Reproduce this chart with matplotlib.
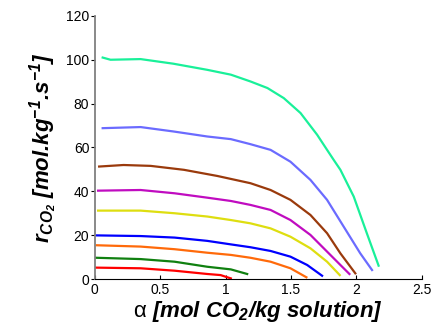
import numpy as np
import matplotlib
matplotlib.use('Agg')
import matplotlib.pyplot as plt

plt.rcParams['font.family'] = ['Liberation Sans', 'DejaVu Sans']
plt.rcParams['mathtext.fontset'] = 'custom'
plt.rcParams['mathtext.rm'] = 'Liberation Sans'
plt.rcParams['mathtext.bfit'] = 'Liberation Sans:italic:bold'

# Courbes (alpha, r_CO2)
x_100 = [0.06, 0.12, 0.35, 0.60, 0.86, 1.04, 1.19, 1.32, 1.445, 1.573, 1.70, 1.776, 1.827, 1.878, 1.98, 2.08, 2.17]
y_100 = [101.0, 100.0, 100.3, 98.2, 95.4, 93.2, 90.1, 87.1, 82.5, 75.7, 65.8, 58.9, 54.3, 49.8, 37.6, 20.9, 6.1]

x_69 = [0.06, 0.35, 0.60, 0.86, 1.04, 1.19, 1.344, 1.496, 1.649, 1.776, 1.903, 2.03, 2.12]
y_69 = [68.8, 69.3, 67.3, 65.0, 63.8, 61.5, 58.9, 53.5, 45.2, 36.1, 23.9, 11.7, 4.1]

x_51 = [0.033, 0.22, 0.427, 0.682, 0.937, 1.19, 1.344, 1.496, 1.649, 1.776, 1.878, 1.992]
y_51 = [51.3, 52.0, 51.6, 49.8, 47.0, 43.7, 40.6, 36.1, 29.2, 20.9, 11.7, 2.6]

x_40 = [0.025, 0.35, 0.61, 0.86, 1.04, 1.19, 1.344, 1.496, 1.649, 1.776, 1.878, 1.947]
y_40 = [40.3, 40.6, 39.1, 37.1, 35.6, 33.8, 31.5, 26.9, 20.1, 12.5, 6.4, 2.3]

x_31 = [0.025, 0.35, 0.61, 0.86, 1.04, 1.19, 1.344, 1.496, 1.649, 1.776, 1.873]
y_31 = [31.2, 31.2, 30.0, 28.5, 26.9, 25.4, 23.1, 19.3, 14.0, 7.9, 1.8]

x_20 = [0.015, 0.35, 0.61, 0.86, 1.04, 1.19, 1.344, 1.496, 1.624, 1.738]
y_20 = [19.9, 19.6, 18.9, 17.4, 15.8, 14.5, 12.8, 10.2, 6.4, 1.5]

x_15 = [0.015, 0.35, 0.61, 0.86, 1.04, 1.19, 1.344, 1.496, 1.618]
y_15 = [15.4, 14.8, 13.6, 12.0, 11.0, 9.7, 7.9, 4.9, 0.8]

x_10 = [0.008, 0.35, 0.61, 0.86, 1.04, 1.165]
y_10 = [9.7, 9.1, 7.9, 5.6, 4.4, 2.3]

x_5 = [0.008, 0.35, 0.61, 0.86, 0.962, 1.013, 1.04]
y_5 = [5.2, 4.9, 3.8, 2.3, 1.8, 0.8, 0.3]

series = [(x_100, y_100, '#19f099'), (x_69, y_69, '#6b6bff'), (x_51, y_51, '#9a3a0c'),
          (x_40, y_40, '#c00cc0'), (x_31, y_31, '#dede10'), (x_20, y_20, '#0000ff'),
          (x_15, y_15, '#ff6a0a'), (x_10, y_10, '#108010'), (x_5, y_5, '#ff0000')]

fig = plt.figure(figsize=(4.33, 3.31), dpi=100)
ax = fig.add_axes([0.219, 0.157, 0.755, 0.795])

for xs, ys, c in series:
    ax.plot(xs, ys, '-', color=c, linewidth=1.6, solid_joinstyle='round')

ax.set_xlim(0, 2.5)
ax.set_ylim(0, 120)
ax.set_xticks([0, 0.5, 1, 1.5, 2, 2.5])
ax.set_xticklabels(['0', '0.5', '1', '1.5', '2', '2.5'])
ax.set_yticks([0, 20, 40, 60, 80, 100, 120])
ax.tick_params(axis='x', direction='in', length=3, labelsize=10, pad=3)
ax.tick_params(axis='y', direction='out', length=3, labelsize=10, pad=1)
ax.spines['top'].set_visible(False)
ax.spines['right'].set_visible(False)
ax.spines['left'].set_color('#808080')
ax.spines['left'].set_linewidth(1.3)

ax.set_xlabel(r'$\mathrm{\alpha}$ [mol CO$_\mathbfit{2}$/kg solution]',
              fontsize=16, fontweight='bold', style='italic', labelpad=1)
ax.set_ylabel(r'r$_\mathbfit{CO_2}$ [mol.kg$^\mathbfit{-1}$.s$^\mathbfit{-1}$]',
              fontsize=16, fontweight='bold', style='italic', labelpad=4)

fig.savefig('out.png', dpi=100)
